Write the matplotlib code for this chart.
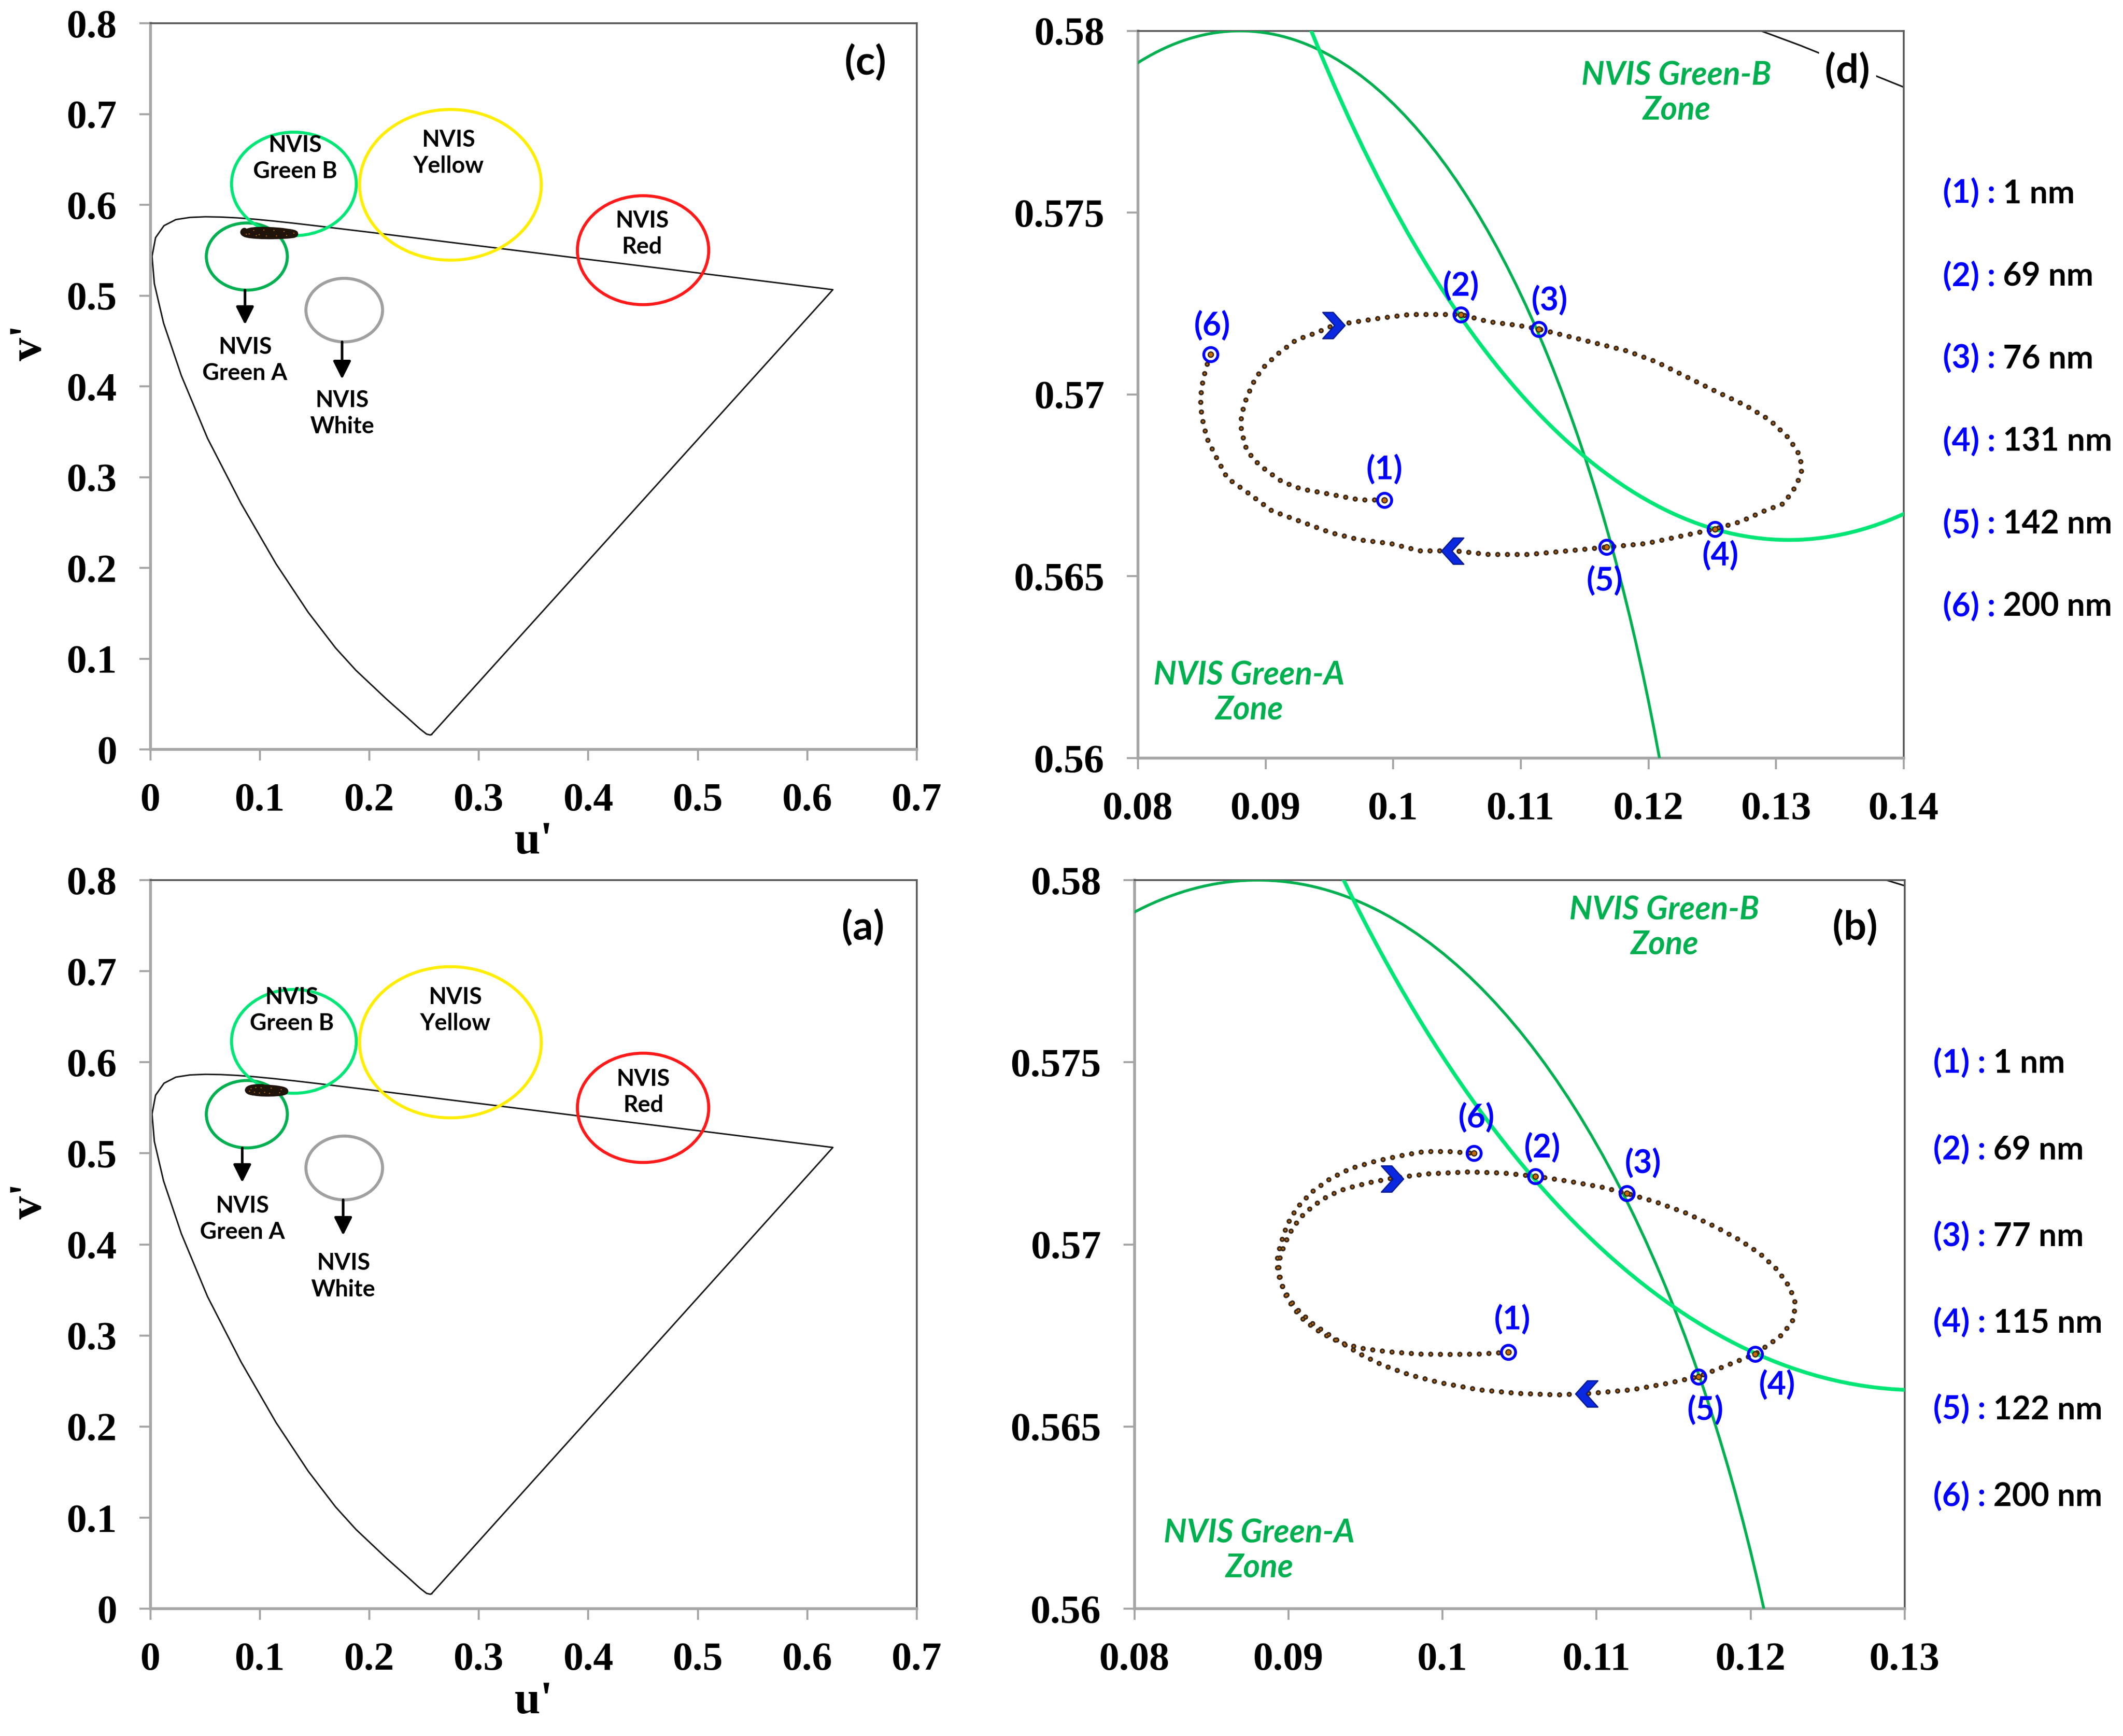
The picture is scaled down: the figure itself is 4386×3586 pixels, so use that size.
import matplotlib
matplotlib.use("Agg")
import matplotlib.pyplot as plt
from matplotlib.patches import Circle
from matplotlib.path import Path
from matplotlib.ticker import FixedLocator, FuncFormatter

plt.rcParams['font.family'] = ['Liberation Serif', 'DejaVu Serif']
plt.rcParams['font.weight'] = 'bold'
plt.rcParams['lines.scale_dashes'] = False

# ------------------------------------------------------------------ data
# CIE 1976 spectral locus (u', v'), 380 nm ... 700 nm, closed by purple line
locus_u = [0.2568, 0.2557, 0.2522, 0.2461, 0.2347, 0.2161, 0.1877, 0.1690, 0.1441,
           0.1147, 0.0828, 0.0521, 0.0282, 0.0119, 0.0035, 0.0014, 0.0046, 0.0123,
           0.0231, 0.0360, 0.0501, 0.0643, 0.0792, 0.0953, 0.1127, 0.1319, 0.1531,
           0.2026, 0.2623, 0.3315, 0.4035, 0.4692, 0.5203, 0.5565, 0.5830, 0.6005,
           0.6109, 0.6199, 0.6234, 0.2568]
locus_v = [0.0166, 0.0159, 0.0169, 0.0226, 0.0350, 0.0549, 0.0871, 0.1119, 0.1510,
           0.2044, 0.2708, 0.3427, 0.4117, 0.4698, 0.5131, 0.5432, 0.5638, 0.5770,
           0.5837, 0.5861, 0.5868, 0.5865, 0.5856, 0.5841, 0.5821, 0.5796, 0.5766,
           0.5694, 0.5604, 0.5501, 0.5393, 0.5296, 0.5219, 0.5165, 0.5125, 0.5099,
           0.5084, 0.5070, 0.5065, 0.0166]

# NVIS colour zones (circles in u'v')
zone_names = ["Green A", "Green B", "Yellow", "Red", "White"]
zone_u = [0.088, 0.131, 0.274, 0.450, 0.177]
zone_v = [0.543, 0.623, 0.622, 0.550, 0.484]
zone_r = [0.037, 0.057, 0.083, 0.060, 0.035]

# trajectory, panel (d) / (c)
traj_d_u = [0.0993, 0.0974, 0.0959, 0.0944, 0.0928, 0.0913, 0.0901, 0.0891, 0.0885, 0.0881,
            0.0881, 0.0884, 0.0890, 0.0897, 0.0909, 0.0924, 0.0940, 0.0953, 0.0971, 0.0990,
            0.1013, 0.1036, 0.1053, 0.1075, 0.1098, 0.1114, 0.1137, 0.1160, 0.1183, 0.1206,
            0.1229, 0.1252, 0.1276, 0.1295, 0.1310, 0.1319, 0.1320, 0.1316, 0.1306, 0.1291,
            0.1272, 0.1252, 0.1225, 0.1198, 0.1167, 0.1137, 0.1106, 0.1075, 0.1048, 0.1021,
            0.0998, 0.0974, 0.0951, 0.0928, 0.0905, 0.0886, 0.0870, 0.0861, 0.0854, 0.0850,
            0.0849, 0.0851, 0.0854, 0.0857]
traj_d_v = [0.5671, 0.5671, 0.5672, 0.5673, 0.5674, 0.5676, 0.5679, 0.5682, 0.5685, 0.5690,
            0.5694, 0.5698, 0.5703, 0.5707, 0.5711, 0.5715, 0.5717, 0.5719, 0.5720, 0.5721,
            0.5722, 0.5722, 0.5722, 0.5720, 0.5719, 0.5718, 0.5716, 0.5714, 0.5712, 0.5709,
            0.5705, 0.5701, 0.5697, 0.5693, 0.5688, 0.5683, 0.5679, 0.5675, 0.5670, 0.5668,
            0.5665, 0.5663, 0.5661, 0.5659, 0.5658, 0.5657, 0.5656, 0.5656, 0.5657, 0.5657,
            0.5659, 0.5660, 0.5662, 0.5665, 0.5668, 0.5673, 0.5677, 0.5683, 0.5688, 0.5694,
            0.5699, 0.5704, 0.5708, 0.5711]
marks_d_u = [0.0993, 0.1053, 0.1114, 0.1252, 0.1167, 0.0857]
marks_d_v = [0.5671, 0.5722, 0.5718, 0.5663, 0.5658, 0.5711]
nm_d = [1, 69, 76, 131, 142, 200]
arrows_d_u = [0.0953, 0.1047]
arrows_d_v = [0.5719, 0.5657]
arrows_d_dir = ['right', 'left']

# trajectory, panel (b) / (a)
traj_b_u = [0.10427, 0.10235, 0.10042, 0.09850, 0.09658, 0.09497, 0.09369, 0.09273, 0.09177,
            0.09096, 0.09032, 0.08984, 0.08952, 0.08936, 0.08946, 0.08978, 0.09023, 0.09080,
            0.09161, 0.09257, 0.09369, 0.09529, 0.09690, 0.09914, 0.10171, 0.10395, 0.10604,
            0.10812, 0.11036, 0.11197, 0.11389, 0.11582, 0.11774, 0.11934, 0.12063, 0.12175,
            0.12255, 0.12294, 0.12271, 0.12191, 0.12031, 0.11870, 0.11662, 0.11453, 0.11229,
            0.10956, 0.10748, 0.10491, 0.10235, 0.09978, 0.09786, 0.09609, 0.09465, 0.09305,
            0.09161, 0.09048, 0.08968, 0.08930, 0.08926, 0.08946, 0.08978, 0.09016, 0.09080,
            0.09161, 0.09273, 0.09401, 0.09561, 0.09722, 0.09882, 0.10042, 0.10203]
traj_b_v = [0.56704, 0.56699, 0.56698, 0.56699, 0.56705, 0.56713, 0.56726, 0.56743, 0.56767,
            0.56794, 0.56825, 0.56859, 0.56896, 0.56930, 0.56967, 0.57004, 0.57042, 0.57075,
            0.57106, 0.57133, 0.57153, 0.57170, 0.57183, 0.57194, 0.57199, 0.57196, 0.57187,
            0.57174, 0.57157, 0.57140, 0.57116, 0.57086, 0.57048, 0.57011, 0.56974, 0.56930,
            0.56882, 0.56835, 0.56787, 0.56747, 0.56699, 0.56672, 0.56637, 0.56618, 0.56601,
            0.56591, 0.56587, 0.56591, 0.56601, 0.56621, 0.56642, 0.56669, 0.56699, 0.56740,
            0.56781, 0.56825, 0.56875, 0.56923, 0.56957, 0.56997, 0.57038, 0.57075, 0.57113,
            0.57147, 0.57181, 0.57208, 0.57228, 0.57243, 0.57255, 0.57255, 0.57250]
marks_b_u = [0.10427, 0.10604, 0.11197, 0.12031, 0.11662, 0.10203]
marks_b_v = [0.56704, 0.57187, 0.57140, 0.56699, 0.56637, 0.57250]
nm_b = [1, 69, 77, 115, 122, 200]
arrows_b_u = [0.0967, 0.1094]
arrows_b_v = [0.5718, 0.5659]
arrows_b_dir = ['right', 'left']

# ------------------------------------------------------------------ styles
zone_col = {"Green A": "#00b050", "Green B": "#00e676", "Yellow": "#ffee00",
            "Red": "#ff1a1a", "White": "#a0a0a0"}
zone_lw_zoom = {"Green A": 1.4, "Green B": 1.9, "Yellow": 1.4, "Red": 1.4, "White": 1.4}
SANS = ['Lato', 'DejaVu Sans']
BLUE = '#0000ff'
BROWN = '#3d2a1a'
ORANGE = '#c86a00'

chev_verts = [(-0.8, 1.0), (0.0, 1.0), (0.9, 0.0), (0.0, -1.0), (-0.8, -1.0), (0.1, 0.0), (-0.8, 1.0)]
chev_codes = [Path.MOVETO] + [Path.LINETO] * 5 + [Path.CLOSEPOLY]
chev_right = Path(chev_verts, chev_codes)
chev_left = Path([(-x, y) for x, y in chev_verts], chev_codes)

fmt = FuncFormatter(lambda v, p: f"{round(v, 6):g}")

FIG_W, FIG_H = 4386 / 300, 3586 / 300
fig = plt.figure(figsize=(FIG_W, FIG_H), dpi=300)
ax_c = fig.add_axes([0.0709, 0.5683, 0.3609, 0.4183])
ax_a = fig.add_axes([0.0709, 0.0733, 0.3609, 0.4197])
ax_d = fig.add_axes([0.5360, 0.5633, 0.3607, 0.4189])
ax_b = fig.add_axes([0.5344, 0.0733, 0.3627, 0.4197])


def style_axes(ax, xt, yt):
    ax.xaxis.set_major_locator(FixedLocator(xt))
    ax.yaxis.set_major_locator(FixedLocator(yt))
    ax.xaxis.set_major_formatter(fmt)
    ax.yaxis.set_major_formatter(fmt)
    for s in ('left', 'bottom'):
        ax.spines[s].set_color('#a6a6a6')
        ax.spines[s].set_linewidth(1.4)
    for s in ('top', 'right'):
        ax.spines[s].set_color('#595959')
        ax.spines[s].set_linewidth(0.9)
    ax.tick_params(axis='both', direction='out', length=5.5, width=1.0, color='#a6a6a6',
                   labelsize=20, pad=11)
    ax.tick_params(top=False, right=False)


def overview(ax, tu, tv, lab_pos, arr, panel, panel_pos):
    ax.set_xlim(0, 0.7)
    ax.set_ylim(0, 0.8)
    style_axes(ax, [0, 0.1, 0.2, 0.3, 0.4, 0.5, 0.6, 0.7], [0, 0.1, 0.2, 0.3, 0.4, 0.5, 0.6, 0.7, 0.8])
    ax.plot(locus_u, locus_v, color='#1a1a1a', lw=0.75, zorder=2)
    for i, n in enumerate(zone_names):
        ax.add_patch(Circle((zone_u[i], zone_v[i]), zone_r[i], fill=False,
                            ec=zone_col[n], lw=1.5, zorder=3))
    ax.plot(tu, tv, color='#20140a', lw=3.2, solid_capstyle='round', zorder=4)
    ax.plot(tu, tv, color=ORANGE, lw=0.6, ls=(0, (0.01, 5)), dash_capstyle='round', zorder=5)
    for n, (x, y) in lab_pos.items():
        ax.text(x, y, "NVIS\n" + n, family=SANS, fontsize=11.5, fontweight='bold',
                ha='center', va='center', linespacing=1.28, zorder=6)
    for (x, y0, y1) in arr:
        ax.annotate('', xy=(x, y1), xytext=(x, y0),
                    arrowprops=dict(arrowstyle='-|>,head_length=0.5,head_width=0.25',
                                    color='black', lw=1.3, mutation_scale=15,
                                    shrinkA=0, shrinkB=0), zorder=6)
    ax.text(panel_pos[0], panel_pos[1], panel, family=SANS, fontsize=20, fontweight='bold',
            ha='center', va='center', zorder=7)
    ax.text(0.5, -0.128, "u'", transform=ax.transAxes, fontsize=23, fontweight='bold',
            ha='center', va='center')
    ax.text(-0.157, 0.56, "v'", transform=ax.transAxes, fontsize=23, fontweight='bold',
            ha='center', va='center', rotation=90)


def zoom(ax, tu, tv, mu, mv, au, av, adir, offs, xlim, xt, panel, panel_pos, zb_pos, za_pos):
    ax.set_xlim(*xlim)
    ax.set_ylim(0.56, 0.58)
    style_axes(ax, xt, [0.56, 0.565, 0.57, 0.575, 0.58])
    ax.plot(locus_u, locus_v, color='#1a1a1a', lw=0.8, zorder=2)
    for i, n in enumerate(zone_names):
        ax.add_patch(Circle((zone_u[i], zone_v[i]), zone_r[i], fill=False,
                            ec=zone_col[n], lw=zone_lw_zoom[n], zorder=3))
    ax.plot(tu, tv, color=BROWN, lw=2.6, ls=(0, (0.01, 4.8)), dash_capstyle='round', zorder=4)
    ax.plot(tu, tv, color=ORANGE, lw=0.9, ls=(0, (0.01, 4.8)), dash_capstyle='round', zorder=5)
    ax.plot(mu, mv, 'o', ms=2.6, mfc=ORANGE, mec=BROWN, mew=0.6, ls='none', zorder=6)
    ax.plot(mu, mv, 'o', ms=7, mfc='none', mec=BLUE, mew=1.4, ls='none', zorder=7)
    for x, y, d in zip(au, av, adir):
        ax.plot([x], [y], marker=chev_right if d == 'right' else chev_left, ms=13,
                mfc='#0a28e0', mec='#071a90', mew=0.6, ls='none', zorder=8)
    for i in range(len(mu)):
        ax.annotate(f"({i + 1})", (mu[i], mv[i]), xytext=offs[i], textcoords='offset points',
                    ha='center', va='center', color=BLUE, family=SANS, fontsize=16,
                    fontweight='bold', zorder=9)
    ax.text(zb_pos[0], zb_pos[1], "NVIS Green-B\nZone", color='#00b050', family=SANS,
            fontsize=16, fontweight='bold', style='italic', ha='center', va='center',
            linespacing=1.2, zorder=9)
    ax.text(za_pos[0], za_pos[1], "NVIS Green-A\nZone", color='#00b050', family=SANS,
            fontsize=16, fontweight='bold', style='italic', ha='center', va='center',
            linespacing=1.2, zorder=9)
    ax.text(panel_pos[0], panel_pos[1], panel, family=SANS, fontsize=20, fontweight='bold',
            ha='center', va='center', zorder=10,
            bbox=dict(fc='white', ec='none', pad=3))


# panel (c)
overview(ax_c, traj_d_u, traj_d_v,
         {"Green B": (0.132, 0.651), "Yellow": (0.272, 0.657), "Red": (0.449, 0.568),
          "Green A": (0.0863, 0.429), "White": (0.175, 0.370)},
         [(0.0863, 0.506, 0.468), (0.175, 0.449, 0.408)], "(c)", (0.653, 0.757))
# panel (a)
overview(ax_a, traj_b_u, traj_b_v,
         {"Green B": (0.129, 0.657), "Yellow": (0.2785, 0.657), "Red": (0.450, 0.567),
          "Green A": (0.0838, 0.428), "White": (0.176, 0.365)},
         [(0.0838, 0.506, 0.468), (0.176, 0.449, 0.410)], "(a)", (0.651, 0.748))

# panel (d)
zoom(ax_d, traj_d_u, traj_d_v, marks_d_u, marks_d_v, arrows_d_u, arrows_d_v, arrows_d_dir,
     [(0, 14.8), (0, 14), (5.4, 14), (2.7, -13.4), (-0.7, -16.8), (0.7, 14)],
     (0.08, 0.14), [0.08, 0.09, 0.1, 0.11, 0.12, 0.13, 0.14], "(d)", (0.1356, 0.5789),
     (0.1222, 0.5783), (0.0887, 0.5618))
# panel (b)
zoom(ax_b, traj_b_u, traj_b_v, marks_b_u, marks_b_v, arrows_b_u, arrows_b_v, arrows_b_dir,
     [(2, 16), (3.4, 14), (8, 14.8), (10.7, -15.4), (3.4, -16.8), (1.3, 17.4)],
     (0.08, 0.13), [0.08, 0.09, 0.1, 0.11, 0.12, 0.13], "(b)", (0.1268, 0.5787),
     (0.1144, 0.5787), (0.0881, 0.5616))

# right-hand wavelength lists: blue "(i) :" followed by black "N nm"
LEG_FS = 16
base_shift = 0.30 * LEG_FS / 72 / FIG_H
gap = 3.6 / 72 / FIG_W
legend_items = []
for x, ys, nms in [(0.9152, [0.8885, 0.8408, 0.7934, 0.7457, 0.6983, 0.6506], nm_d),
                   (0.9106, [0.3876, 0.3377, 0.2878, 0.2379, 0.1880, 0.1380], nm_b)]:
    for i, (y, n) in enumerate(zip(ys, nms)):
        t = fig.text(x, y - base_shift, f"({i + 1}) :", color=BLUE, family=SANS,
                     fontsize=LEG_FS, fontweight='bold', ha='left', va='baseline')
        legend_items.append((t, y - base_shift, f"{n} nm"))

fig.canvas.draw()
renderer = fig.canvas.get_renderer()
inv = fig.transFigure.inverted()
for t, yb, val in legend_items:
    bb = t.get_window_extent(renderer)
    x1 = inv.transform((bb.x1, bb.y0))[0]
    fig.text(x1 + gap, yb, val, color='black', family=SANS, fontsize=LEG_FS,
             fontweight='bold', ha='left', va='baseline')

fig.savefig("out.png", dpi=300, facecolor='white')
